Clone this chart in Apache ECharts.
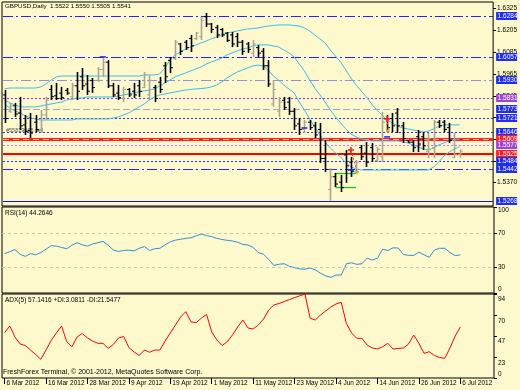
<!DOCTYPE html>
<html><head><meta charset="utf-8">
<script src="https://cdn.jsdelivr.net/npm/echarts@6/dist/echarts.min.js"></script>
<style>html,body{margin:0;padding:0;background:#FDF9CD}#c{width:520px;height:390px}</style>
</head><body><div id="c"></div>
<script>
const dates = [
 '6 Mar 2012','7 Mar 2012','8 Mar 2012','9 Mar 2012','12 Mar 2012','13 Mar 2012','14 Mar 2012','15 Mar 2012','16 Mar 2012','19 Mar 2012',
 '20 Mar 2012','21 Mar 2012','22 Mar 2012','23 Mar 2012','26 Mar 2012','27 Mar 2012','28 Mar 2012','29 Mar 2012','30 Mar 2012',
 '2 Apr 2012','3 Apr 2012','4 Apr 2012','5 Apr 2012','6 Apr 2012','9 Apr 2012','10 Apr 2012','11 Apr 2012','12 Apr 2012','13 Apr 2012',
 '16 Apr 2012','17 Apr 2012','18 Apr 2012','19 Apr 2012','20 Apr 2012','23 Apr 2012','24 Apr 2012','25 Apr 2012','26 Apr 2012','27 Apr 2012','30 Apr 2012',
 '1 May 2012','2 May 2012','3 May 2012','4 May 2012','7 May 2012','8 May 2012','9 May 2012','10 May 2012','11 May 2012','14 May 2012',
 '15 May 2012','16 May 2012','17 May 2012','18 May 2012','21 May 2012','22 May 2012','23 May 2012','24 May 2012','25 May 2012','28 May 2012',
 '29 May 2012','30 May 2012','31 May 2012',
 '1 Jun 2012','4 Jun 2012','5 Jun 2012','6 Jun 2012','7 Jun 2012','8 Jun 2012','11 Jun 2012','12 Jun 2012','13 Jun 2012','14 Jun 2012',
 '15 Jun 2012','18 Jun 2012','19 Jun 2012','20 Jun 2012','21 Jun 2012','22 Jun 2012','25 Jun 2012','26 Jun 2012','27 Jun 2012','28 Jun 2012','29 Jun 2012',
 '2 Jul 2012','3 Jul 2012','4 Jul 2012','5 Jul 2012','6 Jul 2012'
];
const emptySlots = ['','','','','',''];

const opens = [1.5850,1.5760,1.5790,1.5750,1.5685,1.5655,1.5700,1.5660,1.5740,1.5880,
1.5845,1.5860,1.5875,1.5840,1.5900,1.5950,1.5910,1.5930,1.5930,1.5990,
1.6030,1.5900,1.5860,1.5830,1.5880,1.5870,1.5900,1.5890,1.5850,1.5890,
1.5920,1.6010,1.6040,1.6050,1.6130,1.6140,1.6160,1.6160,1.6170,1.6280,
1.6240,1.6220,1.6210,1.6190,1.6180,1.6170,1.6140,1.6130,1.6080,1.6110,
1.6090,1.6010,1.5800,1.5760,1.5820,1.5810,1.5760,1.5690,1.5660,1.5700,
1.5680,1.5660,1.5500,1.5330,1.5400,1.5370,1.5520,1.5480,1.5430,1.5560,
1.5530,1.5560,1.5490,1.5510,1.5720,1.5720,1.5750,1.5680,1.5600,1.5590,
1.5620,1.5620,1.5540,1.5560,1.5700,1.5700,1.5670,1.5505,1.5522];
const highs = [1.5877,1.5806,1.5806,1.5839,1.5740,1.5751,1.5740,1.5767,1.5839,1.5905,
1.5916,1.5894,1.5888,1.5916,1.5976,1.5998,1.5959,1.5943,1.6003,1.6059,
1.6042,1.5916,1.5905,1.5894,1.5888,1.5916,1.5932,1.5976,1.5959,1.5905,
1.5949,1.6031,1.6059,1.6152,1.6136,1.6152,1.6180,1.6196,1.6278,1.6301,
1.6246,1.6235,1.6218,1.6196,1.6196,1.6191,1.6152,1.6141,1.6152,1.6124,
1.6108,1.6042,1.5932,1.5839,1.5839,1.5839,1.5778,1.5723,1.5712,1.5712,
1.5701,1.5696,1.5602,1.5448,1.5421,1.5410,1.5547,1.5509,1.5492,1.5575,
1.5591,1.5586,1.5564,1.5756,1.5740,1.5751,1.5778,1.5701,1.5602,1.5602,
1.5657,1.5646,1.5641,1.5712,1.5712,1.5712,1.5696,1.5641,1.5550];
const lows = [1.5696,1.5751,1.5729,1.5657,1.5630,1.5613,1.5646,1.5641,1.5712,1.5822,
1.5822,1.5822,1.5850,1.5822,1.5822,1.5877,1.5850,1.5861,1.5921,1.5949,
1.5888,1.5839,1.5822,1.5811,1.5839,1.5833,1.5839,1.5888,1.5822,1.5811,
1.5861,1.5916,1.5970,1.6042,1.6070,1.6097,1.6086,1.6152,1.6152,1.6224,
1.6191,1.6163,1.6169,1.6141,1.6113,1.6113,1.6070,1.6081,1.6059,1.6059,
1.5987,1.5894,1.5784,1.5729,1.5767,1.5740,1.5657,1.5630,1.5641,1.5657,
1.5613,1.5476,1.5426,1.5268,1.5344,1.5316,1.5366,1.5399,1.5421,1.5492,
1.5454,1.5481,1.5481,1.5481,1.5646,1.5646,1.5641,1.5586,1.5586,1.5536,
1.5536,1.5547,1.5503,1.5503,1.5668,1.5646,1.5586,1.5503,1.5505];
const closes = [1.5720,1.5790,1.5745,1.5680,1.5650,1.5640,1.5660,1.5740,1.5820,1.5840,
1.5830,1.5835,1.5860,1.5900,1.5870,1.5900,1.5870,1.5890,1.5990,1.6030,
1.5900,1.5850,1.5835,1.5880,1.5850,1.5850,1.5870,1.5960,1.5930,1.5830,
1.5880,1.5950,1.6000,1.6140,1.6090,1.6110,1.6120,1.6190,1.6260,1.6240,
1.6210,1.6180,1.6180,1.6150,1.6130,1.6140,1.6090,1.6100,1.6130,1.6080,
1.6010,1.5910,1.5880,1.5810,1.5780,1.5760,1.5680,1.5660,1.5700,1.5670,
1.5630,1.5500,1.5440,1.5400,1.5360,1.5340,1.5460,1.5430,1.5480,1.5510,
1.5480,1.5500,1.5550,1.5700,1.5670,1.5680,1.5680,1.5610,1.5590,1.5560,
1.5580,1.5570,1.5610,1.5700,1.5680,1.5660,1.5600,1.5522,1.5541];

const bbUpper = [1.5883,1.5888,1.5888,1.5888,1.5888,1.5888,1.5888,1.5894,1.5910,1.5932,
1.5949,1.5954,1.5954,1.5954,1.5954,1.5954,1.5954,1.5954,1.5954,1.5954,
1.5954,1.5954,1.5954,1.5954,1.5954,1.5954,1.5954,1.5960,1.5960,1.5960,
1.5965,1.5998,1.6042,1.6070,1.6086,1.6103,1.6114,1.6125,1.6136,1.6147,
1.6158,1.6169,1.6180,1.6191,1.6196,1.6202,1.6207,1.6213,1.6215,1.6218,
1.6224,1.6229,1.6232,1.6235,1.6235,1.6235,1.6232,1.6229,1.6218,1.6202,
1.6180,1.6158,1.6136,1.6097,1.6064,1.6031,1.5987,1.5943,1.5904,1.5871,
1.5838,1.5800,1.5767,1.5740,1.5712,1.5696,1.5679,1.5668,1.5663,1.5657,
1.5652,1.5646,1.5652,1.5663,1.5679,1.5685,1.5685,1.5685,1.5685];
const bbMiddle = [1.5822,1.5806,1.5795,1.5784,1.5784,1.5784,1.5784,1.5789,1.5795,1.5800,
1.5806,1.5811,1.5822,1.5827,1.5833,1.5833,1.5839,1.5839,1.5839,1.5839,
1.5839,1.5839,1.5844,1.5850,1.5855,1.5861,1.5866,1.5872,1.5877,1.5883,
1.5899,1.5916,1.5932,1.5949,1.5960,1.5971,1.5982,1.5993,1.6004,1.6020,
1.6031,1.6042,1.6053,1.6070,1.6081,1.6092,1.6103,1.6108,1.6119,1.6125,
1.6125,1.6125,1.6119,1.6114,1.6097,1.6081,1.6059,1.6020,1.5982,1.5932,
1.5888,1.5850,1.5811,1.5767,1.5729,1.5696,1.5663,1.5635,1.5619,1.5608,
1.5602,1.5597,1.5597,1.5597,1.5597,1.5597,1.5597,1.5591,1.5586,1.5575,
1.5564,1.5553,1.5547,1.5558,1.5575,1.5586,1.5597,1.5602,1.5608];
const bbLower = [1.5800,1.5778,1.5762,1.5751,1.5734,1.5723,1.5718,1.5712,1.5712,1.5712,
1.5712,1.5712,1.5712,1.5712,1.5718,1.5718,1.5718,1.5718,1.5718,1.5718,
1.5718,1.5723,1.5729,1.5740,1.5751,1.5767,1.5784,1.5800,1.5822,1.5839,
1.5850,1.5855,1.5861,1.5866,1.5872,1.5877,1.5880,1.5883,1.5885,1.5888,
1.5894,1.5904,1.5921,1.5943,1.5960,1.5976,1.5987,1.5998,1.6009,1.6014,
1.6009,1.5987,1.5954,1.5932,1.5904,1.5883,1.5861,1.5811,1.5767,1.5718,
1.5674,1.5630,1.5591,1.5558,1.5531,1.5509,1.5476,1.5454,1.5443,1.5437,
1.5437,1.5437,1.5437,1.5437,1.5437,1.5437,1.5437,1.5437,1.5437,1.5437,
1.5437,1.5437,1.5437,1.5454,1.5481,1.5514,1.5536,1.5553,1.5564];

const rsi = [45.7,48,50.6,45,42.6,45.7,44.5,47,51,55,
54.5,53,51.4,55.5,58.5,56,54.5,57,58.5,60,
55.5,50,48.3,49.5,49.8,49,52,54,49.4,51.5,
52,56,59.5,61.5,62.5,63.5,64.2,66.5,68.5,66.8,
65.5,63.5,62.3,61.2,60.5,59,56.5,55.8,53,47,
45,39,32,33.5,34,31,29.5,28,27.7,29,
27,23,20,18.2,20.9,20.9,34,35.2,33.3,34,
40.5,38.3,40.5,51,49.4,52.5,52.3,44.8,43.8,43.7,
47.5,44.3,41.5,50,52,52,47,43.5,44.26];
const adx = [50.7,58.2,45.9,38,36.4,31.3,26.3,20.9,31.3,42,
50.4,58.2,40.6,35,45.9,49.8,44.8,41.4,38.8,38.8,
33.2,37.5,44.8,46.4,34.1,29.1,25.2,31.3,28.8,31.3,
31.3,41.4,50.4,59.3,68.3,74.2,62.7,61.9,67.1,71.1,
51.5,42.5,36.4,40.6,48.1,57.1,64.9,56,54.8,59.3,
66,76.1,81.7,83.4,85.6,87.8,90,92,94,66.8,
64.9,70.5,75,79.5,82.8,84.7,61,50.4,44.4,44.4,
36.9,33.6,32.5,35,38.8,32.5,33,33.6,38,48.1,
38.8,27.6,29.4,25.2,22.9,22,33.6,47,57.14];

const levelValues = [1.6284,1.6057,1.5930,1.5831,1.5773,1.5721,1.5646,1.5609,1.5577,1.5525,1.5484,1.5442,1.5268];
const priceTicks = [1.6325,1.6205,1.6085,1.5965,1.5845,1.5725,1.5605,1.5485,1.5370];
const rsiTicks = [0,30,70,100];
const rsiLevels = [70,30];
const adxTicks = [0,23,47,70,94];

// trade objects drawn on the price chart: [bar index, price]
const tradeOpenPoints = [[67,1.5547],[74,1.5718]];
const tradeClosePoints = [[68,1.5426],[74,1.5652]];
const tradeStopMarks = [[58,1.5668],[67,1.5437],[74,1.5619],[19,1.6059]];
const greenBoxFrom = 64, greenBoxTo = 68, greenBoxTop = 1.5418, greenBoxBottom = 1.5344;

const titleText = 'GBPUSD,Daily  1.5522 1.5550 1.5505 1.5541';
const rsiText = 'RSI(14) 44.2646';
const adxText = 'ADX(5) 57.1416 +DI:3.0811 -DI:21.5477';
const copyText = 'FreshForex Terminal, \u00a9 2001-2012, MetaQuotes Software Corp.';
const tradeText = '#55819606 sell';

// ---------- build ----------
const cats = dates.concat(emptySlots);
const ohlc = dates.map((d,i)=>[i, opens[i], highs[i], lows[i], closes[i]]);
const FONT = 'Liberation Sans';
const FS = 6.5;
const BLUE = '#1f2cf2', PURP = '#a044d8', RED = '#ff1c1c';
const DASHDOT = [10,3,2,3], DOT = [2,2];
const LBLUE = '#2222ff';
const levelStyles = [
  {c:LBLUE, t:DASHDOT, w:1, b:BLUE},
  {c:LBLUE, t:DASHDOT, w:1, b:BLUE},
  {c:'#9890d4', t:DASHDOT, w:1, b:BLUE},
  {c:'#a020f0', t:DOT, w:1, b:PURP},
  {c:'#aaa8b6', t:[7,3], w:1, b:BLUE},
  {c:'#2a2aff', t:DOT, w:1, b:BLUE},
  {c:'#2a2aff', t:DOT, w:1, b:BLUE},
  {c:'#ff2222', t:null, w:3, b:RED},
  {c:'#d070f0', t:DOT, w:1, b:PURP},
  {c:'#ff0000', t:null, w:2, b:RED},
  {c:'#2a2aff', t:DOT, w:1, b:BLUE},
  {c:LBLUE, t:DASHDOT, w:1, b:BLUE},
  {c:'#1414d8', t:null, w:1, b:BLUE}
];

const axisCommonX = (gi, showLabels)=>({
  gridIndex:gi, type:'category', data:cats, boundaryGap:true,
  axisLine:{show:false}, splitLine:{show:false},
  axisTick: showLabels ? {show:true, interval:7, alignWithLabel:true, length:6, lineStyle:{color:'#000'}} : {show:false},
  axisLabel: showLabels ? {show:true, interval:7, align:'left', fontSize:FS, fontFamily:FONT, color:'#000', margin:2, padding:[0,0,0,2]} : {show:false}
});
const gridBase = {left:2, right:26, show:true, borderColor:'#000', borderWidth:1, backgroundColor:'transparent', containLabel:false};

const option = {
  animation:false,
  backgroundColor:'#FDF9CD',
  textStyle:{fontFamily:FONT},
  grid:[
    Object.assign({top:2, height:204}, gridBase),
    Object.assign({top:207, height:86}, gridBase),
    Object.assign({top:294, height:84}, gridBase)
  ],
  xAxis:[axisCommonX(0,false), axisCommonX(1,false), axisCommonX(2,true)],
  yAxis:[
    {gridIndex:0, type:'value', position:'right', min:1.5239, max:1.6361, splitLine:{show:false}, axisLine:{show:false},
     axisTick:{show:true, customValues:priceTicks, length:3, lineStyle:{color:'#000'}},
     axisLabel:{customValues:priceTicks, formatter:v=>v.toFixed(4), fontSize:FS, fontFamily:FONT, color:'#000', margin:4}},
    {gridIndex:1, type:'value', position:'right', min:0, max:100, splitLine:{show:false}, axisLine:{show:false},
     axisTick:{show:true, customValues:rsiTicks, length:3, lineStyle:{color:'#000'}},
     axisLabel:{customValues:rsiTicks, fontSize:FS, fontFamily:FONT, color:'#000', margin:4,
       verticalAlignMaxLabel:'top', verticalAlignMinLabel:'bottom'}},
    {gridIndex:2, type:'value', position:'right', min:0, max:94, splitLine:{show:false}, axisLine:{show:false},
     axisTick:{show:true, customValues:adxTicks, length:3, lineStyle:{color:'#000'}},
     axisLabel:{customValues:adxTicks, fontSize:FS, fontFamily:FONT, color:'#000', margin:4, verticalAlign:'top',
       padding:[2,0,0,0], verticalAlignMinLabel:'bottom'}}
  ],
  series:[
    // horizontal level lines, pixel-snapped
    {type:'custom', name:'levels', xAxisIndex:0, yAxisIndex:0, z:1, clip:false,
     data:levelValues.map(v=>[0, v]), encode:{y:1},
     renderItem:(params, api)=>{
       const idx = params.dataIndex;
       const s = levelStyles[idx];
       const yy = api.coord([0, api.value(1)])[1];
       const y = s.w % 2 === 1 ? Math.round(yy) + 0.5 : Math.round(yy);
       const x1 = params.coordSys.x + 1, x2 = params.coordSys.x + params.coordSys.width;
       const kids = [{type:'line', shape:{x1:x1, y1:y, x2:x2, y2:y}, style:{stroke:s.c, lineWidth:s.w, lineDash:s.t || null}}];
       if (idx === 7) kids.push({type:'line', shape:{x1:x1, y1:y, x2:x2, y2:y}, style:{stroke:'#ffb4a8', lineWidth:1, lineDash:[6,4]}});
       return {type:'group', children:kids};
     }},
    {type:'line', name:'bbU', xAxisIndex:0, yAxisIndex:0, data:bbUpper, symbol:'none', lineStyle:{color:'#3cbcf0', width:1}, z:2},
    {type:'line', name:'bbM', xAxisIndex:0, yAxisIndex:0, data:bbMiddle, symbol:'none', lineStyle:{color:'#3cbcf0', width:1}, z:2},
    {type:'line', name:'bbL', xAxisIndex:0, yAxisIndex:0, data:bbLower, symbol:'none', lineStyle:{color:'#3cbcf0', width:1}, z:2},
    {type:'line', name:'box', xAxisIndex:0, yAxisIndex:0, data:[], z:3,
     markLine:{silent:true, symbol:['none','none'], label:{show:false}, lineStyle:{color:'#22c022', type:'solid', width:1.3},
       data:[
         [{coord:[greenBoxFrom, greenBoxTop]},{coord:[greenBoxTo, greenBoxTop]}],
         [{coord:[greenBoxFrom, greenBoxBottom]},{coord:[greenBoxTo, greenBoxBottom]}],
         [{coord:[greenBoxFrom, greenBoxTop]},{coord:[greenBoxFrom, greenBoxBottom]}]
       ]}},
    {type:'custom', name:'GBPUSD', xAxisIndex:0, yAxisIndex:0, data:ohlc, z:5,
     encode:{x:0, y:[1,2,3,4]},
     renderItem:(params, api)=>{
       const i = api.value(0);
       const o = api.value(1), h = api.value(2), l = api.value(3), c = api.value(4);
       const pH = api.coord([i,h]), pL = api.coord([i,l]), pO = api.coord([i,o]), pC = api.coord([i,c]);
       const col = c >= o ? '#aaa592' : '#000000';
       const x = Math.round(pH[0]) + 0.5;
       return {type:'group', children:[
         {type:'line', shape:{x1:x, y1:pH[1], x2:x, y2:pL[1]}, style:{stroke:col, lineWidth:1.6}},
         {type:'line', shape:{x1:x-2.5, y1:pO[1], x2:x, y2:pO[1]}, style:{stroke:col, lineWidth:1}},
         {type:'line', shape:{x1:x, y1:pC[1], x2:x+2.5, y2:pC[1]}, style:{stroke:col, lineWidth:1}}
       ]};
     }},
    {type:'custom', name:'trades', xAxisIndex:0, yAxisIndex:0, z:6,
     data:tradeOpenPoints.map((p,k)=>[p[0],p[1],tradeClosePoints[k][0],tradeClosePoints[k][1]]),
     encode:{x:[0,2], y:[1,3]},
     renderItem:(params, api)=>{
       const a = api.coord([api.value(0), api.value(1)]);
       const b = api.coord([api.value(2), api.value(3)]);
       return {type:'group', children:[
         {type:'line', shape:{x1:a[0], y1:a[1], x2:b[0]+1, y2:b[1]}, style:{stroke:'#ff3030', lineWidth:1, lineDash:[2,2]}},
         {type:'line', shape:{x1:a[0]-3, y1:a[1], x2:a[0]+3, y2:a[1]}, style:{stroke:'#ff2020', lineWidth:1.6}},
         {type:'line', shape:{x1:a[0], y1:a[1]-3, x2:a[0], y2:a[1]+3}, style:{stroke:'#ff2020', lineWidth:1.6}},
         {type:'circle', shape:{cx:b[0]+1, cy:b[1], r:1.6}, style:{fill:'#f0a020'}}
       ]};
     }},
    {type:'custom', name:'marks', xAxisIndex:0, yAxisIndex:0, z:6, data:tradeStopMarks,
     encode:{x:0, y:1},
     renderItem:(params, api)=>{
       const a = api.coord([api.value(0), api.value(1)]);
       return {type:'line', shape:{x1:a[0]-3, y1:a[1], x2:a[0]+3, y2:a[1]}, style:{stroke:'#2020ff', lineWidth:1.5}};
     }},
    {type:'custom', name:'levelTags', xAxisIndex:0, yAxisIndex:0, z:8, clip:false,
     data:levelValues.map(v=>[0, v]), encode:{y:1},
     renderItem:(params, api)=>{
       const idx = params.dataIndex;
       const v = api.value(1);
       const y = api.coord([0, v])[1];
       const x0 = params.coordSys.x + params.coordSys.width + 3;
       return {type:'group', children:[
         {type:'rect', shape:{x:x0, y:Math.round(y)-4, width:21, height:8}, style:{fill:levelStyles[idx].b}},
         {type:'text', x:x0+1.5, y:Math.round(y)+0.5, style:{text:v.toFixed(4), fill:'#fff', font:FS+'px '+FONT, verticalAlign:'middle', align:'left'}}
       ]};
     }},
    {type:'line', name:'RSI', xAxisIndex:1, yAxisIndex:1, data:rsi, symbol:'none', lineStyle:{color:'#2b8fe2', width:1},
     markLine:{silent:true, symbol:['none','none'], label:{show:false},
       lineStyle:{color:'#c9c5ae', type:[3,3], width:1}, data:rsiLevels.map(v=>({yAxis:v}))}},
    {type:'line', name:'ADX', xAxisIndex:2, yAxisIndex:2, data:adx, symbol:'none', lineStyle:{color:'#ff0000', width:1}}
  ],
  graphic:[
    {type:'text', left:5, top:3, style:{text:titleText, fontSize:6.2, fontFamily:FONT, fill:'#000'}},
    {type:'text', left:6, top:127, style:{text:tradeText, fontSize:5.5, fontFamily:FONT, fill:'#555'}},
    {type:'text', left:5, top:210, style:{text:rsiText, fontSize:FS, fontFamily:FONT, fill:'#000'}},
    {type:'text', left:5, top:297, style:{text:adxText, fontSize:FS, fontFamily:FONT, fill:'#000'}},
    {type:'text', left:3, top:369, style:{text:copyText, fontSize:7, fontFamily:FONT, fill:'#000'}}
  ]
};
const chart = echarts.init(document.getElementById('c'), null, {renderer:'canvas'});
chart.setOption(option);
</script>
</body></html>
